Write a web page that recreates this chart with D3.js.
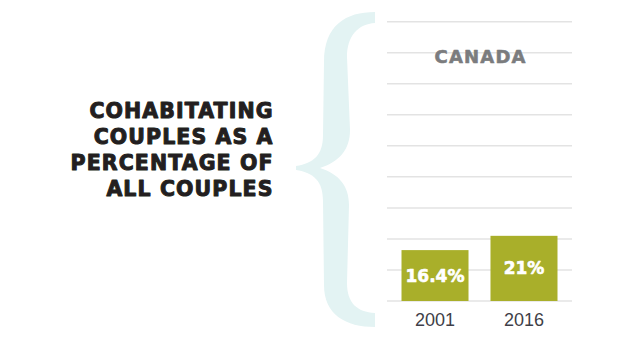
<!DOCTYPE html>
<html>
<head>
<meta charset="utf-8">
<script src="https://cdn.jsdelivr.net/npm/d3@7"></script>
<style>
  html, body { margin: 0; padding: 0; background: #fff; }
  svg { display: block; }
</style>
</head>
<body>
<svg id="chart" width="640" height="356"></svg>
<script>
const years = ["2001", "2016"];
const values = [16.4, 21];
const valueLabels = ["16.4%", "21%"];
const gridTicks = [0, 10, 20, 30, 40, 50, 60, 70, 80, 90];
const titleLines = ["COHABITATING", "COUPLES AS A", "PERCENTAGE OF", "ALL COUPLES"];
const panelTitle = "CANADA";

const svg = d3.select("#chart");

// Decorative brace
svg.append("path")
  .attr("fill", "#e3f3f3")
  .attr("d", "M 375 12 C 346 12, 324 25, 324 62 L 323 135 C 323 155, 314 163, 296 166 L 296 170 C 314 173, 323 181, 323 201 L 324 285 C 324 315, 346 327, 375 327 L 375 313 C 357 312, 347 303, 347 283 L 349 205 C 349 186, 339 174, 320 168 C 339 162, 350 150, 350 130 L 347 57 C 347 36, 358 24, 375 23 Z");

// Title
const ls = 1.1;
const title = svg.append("text")
  .attr("text-anchor", "end")
  .attr("font-family", "DejaVu Sans, sans-serif")
  .attr("font-weight", "bold")
  .attr("font-size", 20.5)
  .attr("letter-spacing", ls)
  .attr("fill", "#231f20")
  .attr("stroke", "#231f20")
  .attr("stroke-width", 1.0)
  .attr("stroke-linejoin", "round");
titleLines.forEach((t, i) => {
  title.append("tspan").attr("x", 272.5 + ls).attr("y", 117.5 + i * 26.2).text(t);
});

const y = d3.scaleLinear().domain([0, 90]).range([301, 21.7]);
const x = d3.scaleBand().domain(years).range([387, 572]).paddingInner(0.247).paddingOuter(0.163);

// Gridlines
svg.append("g")
  .selectAll("line")
  .data(gridTicks)
  .join("line")
  .attr("x1", 387).attr("x2", 572)
  .attr("y1", d => y(d)).attr("y2", d => y(d))
  .attr("stroke", "#e3e3e3")
  .attr("stroke-width", 1.5);

// Panel title
svg.append("text")
  .attr("x", 480 + 0.6).attr("y", 63)
  .attr("text-anchor", "middle")
  .attr("font-family", "DejaVu Sans, sans-serif")
  .attr("font-weight", "bold")
  .attr("font-size", 18)
  .attr("letter-spacing", 1.2)
  .attr("fill", "#7b7c7e")
  .attr("stroke", "#7b7c7e")
  .attr("stroke-width", 0.6)
  .attr("stroke-linejoin", "round")
  .text(panelTitle);

const data = years.map((yr, i) => ({ yr, v: values[i], label: valueLabels[i] }));

// Bars
svg.append("g")
  .selectAll("rect")
  .data(data)
  .join("rect")
  .attr("x", d => x(d.yr))
  .attr("width", x.bandwidth())
  .attr("y", d => y(d.v))
  .attr("height", d => y(0) - y(d.v))
  .attr("fill", "#a9af2a");

// Value labels
svg.append("g")
  .selectAll("text")
  .data(data)
  .join("text")
  .attr("x", d => x(d.yr) + x.bandwidth() / 2)
  .attr("y", d => (y(d.v) + y(0)) / 2 + 6)
  .attr("text-anchor", "middle")
  .attr("font-family", "DejaVu Sans, sans-serif")
  .attr("font-weight", "bold")
  .attr("font-size", 17)
  .attr("fill", "#ffffff")
  .attr("stroke", "#ffffff")
  .attr("stroke-width", 0.6)
  .attr("stroke-linejoin", "round")
  .text(d => d.label);

// Axis labels
const xAxis = d3.axisBottom(x).tickSize(0).tickPadding(0);
const gx = svg.append("g").attr("transform", "translate(0,313)").call(xAxis);
gx.select(".domain").remove();
gx.selectAll("text")
  .attr("font-family", "Liberation Sans, Arial, sans-serif")
  .attr("font-size", 18)
  .attr("fill", "#3f3f48");
</script>
</body>
</html>
